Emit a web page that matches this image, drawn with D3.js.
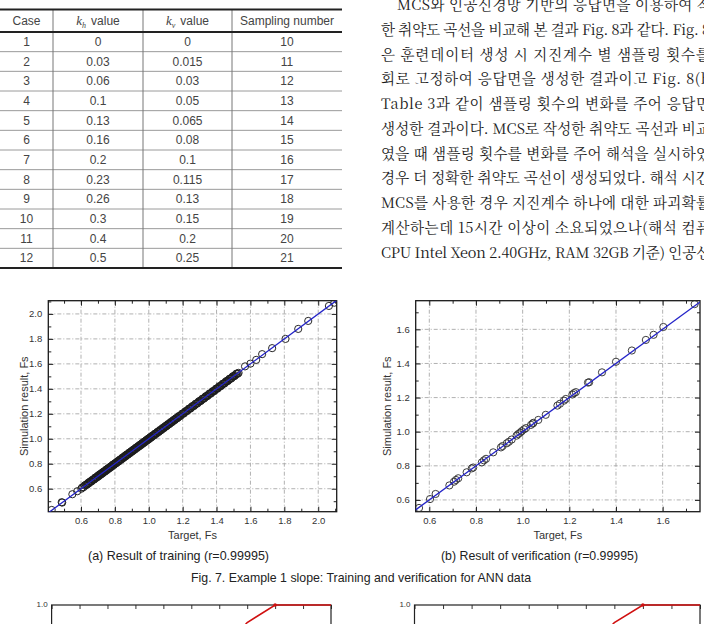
<!DOCTYPE html>
<html><head><meta charset="utf-8">
<script src="https://cdn.jsdelivr.net/npm/d3@7"></script>
<style>html,body{margin:0;padding:0;background:#fff;overflow:hidden}</style>
</head><body><svg id="c" width="704" height="624" xmlns="http://www.w3.org/2000/svg"></svg>
<script>
// ---------- DATA ----------
const tableCases = [1,2,3,4,5,6,7,8,9,10,11,12];
const khValues = ["0","0.03","0.06","0.1","0.13","0.16","0.2","0.23","0.26","0.3","0.4","0.5"];
const kvValues = ["0","0.015","0.03","0.05","0.065","0.08","0.1","0.115","0.13","0.15","0.2","0.25"];
const samplingNumbers = [10,11,12,13,14,15,16,17,18,19,20,21];

const paragraphLines = [
  "MCS와 인공신경망 기반의 응답면을 이용하여 작",
  "한 취약도 곡선을 비교해 본 결과 Fig. 8과 같다. Fig. 8",
  "은 훈련데이터 생성 시 지진계수 별 샘플링 횟수를",
  "회로 고정하여 응답면을 생성한 결과이고 Fig. 8(b",
  "Table 3과 같이 샘플링 횟수의 변화를 주어 응답면",
  "생성한 결과이다. MCS로 작성한 취약도 곡선과 비교",
  "였을 때 샘플링 횟수를 변화를 주어 해석을 실시하였",
  "경우 더 정확한 취약도 곡선이 생성되었다. 해석 시간",
  "MCS를 사용한 경우 지진계수 하나에 대한 파괴확률",
  "계산하는데 15시간 이상이 소요되었으나(해석 컴퓨",
  "CPU Intel Xeon 2.40GHz, RAM 32GB 기준) 인공신"
];

// Fig 7(a) training: target vs simulation
const trainTarget = [0.427,0.486,0.489,0.549,0.578,0.602,0.607,0.628,0.638,0.645,0.652,0.660,0.668,0.675,0.682,0.688,0.695,0.700,0.706,0.712,0.718,0.724,0.730,0.737,0.744,0.750,0.757,0.763,0.770,0.776,0.783,0.790,0.797,0.804,0.811,0.818,0.825,0.832,0.840,0.846,0.853,0.860,0.866,0.872,0.879,0.886,0.893,0.900,0.906,0.913,0.920,0.926,0.933,0.940,0.946,0.952,0.958,0.964,0.970,0.976,0.982,0.988,0.994,1.000,1.006,1.012,1.018,1.025,1.032,1.039,1.046,1.053,1.060,1.068,1.076,1.084,1.092,1.100,1.108,1.116,1.124,1.132,1.140,1.148,1.156,1.164,1.172,1.180,1.190,1.200,1.210,1.220,1.230,1.240,1.250,1.260,1.270,1.280,1.290,1.300,1.310,1.320,1.330,1.340,1.350,1.360,1.370,1.380,1.390,1.400,1.410,1.420,1.430,1.440,1.450,1.460,1.470,1.480,1.490,1.500,1.510,1.520,1.530,1.568,1.600,1.634,1.669,1.728,1.807,1.882,1.941,2.063,2.095,
  0.615,0.622,0.633,0.641,0.649,0.656,0.663,0.671,0.679,0.685,0.691,0.698,0.703,0.709,0.715,0.721,0.727,0.733,0.740,0.747,0.753,0.760,0.766,0.773,0.779,0.786,0.793,0.800,0.807,0.814,0.821,0.828,0.836,0.843,0.850,0.856,0.863,0.869,0.876,0.883,0.889,0.896,0.903,0.910,0.916,0.923,0.930,0.936,0.943,0.949,0.955,0.961,0.967,0.973,0.979,0.985,0.991,0.997,1.003,1.009,1.015,1.022,1.029,1.036,1.043,1.050,1.057,1.064,1.072,1.080,1.088,1.096,1.104,1.112,1.120,1.128,1.136,1.144,1.152,1.160,1.168,1.176,1.185,1.195,1.205,1.215,1.225,1.235,1.245,1.255,1.265,1.275,1.285,1.295,1.305,1.315,1.325,1.335,1.345,1.355,1.365,1.375,1.385,1.395,1.405,1.415,1.425,1.435,1.445,1.455,1.465,1.475,1.485,1.495,1.505,1.515,1.525];
const trainSim =    [0.430,0.492,0.489,0.556,0.580,0.600,0.610,0.632,0.636,0.648,0.655,0.657,0.671,0.672,0.686,0.690,0.692,0.704,0.703,0.716,0.715,0.727,0.728,0.740,0.741,0.754,0.755,0.766,0.768,0.779,0.781,0.794,0.795,0.807,0.809,0.821,0.823,0.835,0.838,0.849,0.851,0.863,0.864,0.875,0.877,0.889,0.891,0.903,0.904,0.916,0.918,0.929,0.931,0.943,0.944,0.955,0.956,0.967,0.968,0.979,0.980,0.991,0.992,1.003,1.004,1.015,1.016,1.028,1.030,1.042,1.044,1.056,1.058,1.071,1.074,1.087,1.090,1.103,1.106,1.119,1.122,1.135,1.138,1.151,1.154,1.167,1.170,1.183,1.188,1.203,1.208,1.223,1.228,1.243,1.248,1.263,1.268,1.283,1.288,1.303,1.308,1.323,1.328,1.343,1.348,1.363,1.368,1.383,1.388,1.403,1.408,1.423,1.428,1.443,1.448,1.463,1.468,1.483,1.488,1.503,1.508,1.523,1.528,1.580,1.602,1.632,1.678,1.726,1.800,1.880,1.944,2.064,2.090,
  0.612,0.626,0.630,0.645,0.646,0.660,0.661,0.674,0.676,0.689,0.688,0.701,0.700,0.713,0.712,0.724,0.723,0.737,0.736,0.750,0.749,0.764,0.762,0.776,0.775,0.790,0.789,0.803,0.803,0.818,0.817,0.831,0.832,0.847,0.846,0.860,0.859,0.873,0.872,0.887,0.885,0.900,0.899,0.914,0.912,0.927,0.926,0.940,0.939,0.953,0.951,0.965,0.963,0.977,0.975,0.989,0.987,1.001,0.999,1.013,1.011,1.026,1.025,1.040,1.039,1.054,1.053,1.068,1.068,1.084,1.084,1.100,1.100,1.116,1.116,1.132,1.132,1.148,1.148,1.164,1.164,1.180,1.181,1.199,1.201,1.219,1.221,1.239,1.241,1.259,1.261,1.279,1.281,1.299,1.301,1.319,1.321,1.339,1.341,1.359,1.361,1.379,1.381,1.399,1.401,1.419,1.421,1.439,1.441,1.459,1.461,1.479,1.481,1.499,1.501,1.519,1.521];

// Fig 7(b) verification: target vs simulation
const verifTarget = [0.556,0.603,0.627,0.686,0.706,0.714,0.724,0.760,0.782,0.788,0.825,0.834,0.843,0.874,0.907,0.914,0.932,0.941,0.953,0.974,0.981,0.989,0.996,1.006,1.014,1.036,1.043,1.046,1.067,1.099,1.149,1.160,1.177,1.185,1.213,1.220,1.228,1.280,1.285,1.340,1.400,1.468,1.528,1.561,1.603,1.737];
const verifSim =    [0.553,0.605,0.635,0.685,0.707,0.717,0.727,0.762,0.785,0.790,0.820,0.832,0.841,0.879,0.908,0.916,0.932,0.941,0.954,0.977,0.986,0.994,1.003,1.014,1.021,1.040,1.048,1.052,1.069,1.099,1.153,1.164,1.182,1.192,1.218,1.226,1.232,1.288,1.290,1.348,1.410,1.476,1.538,1.568,1.614,1.748];

const ticksA = [0.6,0.8,1.0,1.2,1.4,1.6,1.8,2.0];
const minorA = [0.5,0.7,0.9,1.1,1.3,1.5,1.7,1.9,2.1];
const ticksB = [0.6,0.8,1.0,1.2,1.4,1.6];
const minorB = [0.7,0.9,1.1,1.3,1.5,1.7];

// Fig 8 (partially visible): fragility curve tail
const fragX = [0.6,0.7,0.8,0.9,1.0];
const fragP = [0.80,0.93,1.0,1.0,1.0];
const fragTicks = [0,0.1,0.2,0.3,0.4,0.5,0.6,0.7,0.8,0.9,1.0];

const captions = ["(a) Result of training (r=0.99995)", "(b) Result of verification (r=0.99995)"];
const figCaption = "Fig. 7. Example 1 slope: Training and verification for ANN data";

// ---------- DRAW ----------
const svg = d3.select("#c");
const SANS = "'Liberation Sans', Arial, 'Noto Sans CJK KR', sans-serif";

// ----- Table -----
(function table(){
  const g = svg.append("g").attr("font-family", SANS).attr("font-size", 12).attr("fill", "#444");
  const x0 = 0, x1 = 342, topY = 9.5, headY = 32, botY = 268;
  const rowY = d3.scaleLinear().domain([0, tableCases.length]).range([headY, botY]);
  const colLines = [53, 143, 232];
  const colCenters = [26.5, 98, 187.5, 287];
  g.selectAll("line.row").data(d3.range(1, tableCases.length)).join("line")
    .attr("x1", x0).attr("x2", x1).attr("y1", d => rowY(d)).attr("y2", d => rowY(d))
    .attr("stroke", "#9a9a9a").attr("stroke-width", 1);
  g.selectAll("line.col").data(colLines).join("line")
    .attr("x1", d => d).attr("x2", d => d).attr("y1", topY).attr("y2", botY)
    .attr("stroke", "#777").attr("stroke-width", 1);
  [topY, headY, botY].forEach(yv => g.append("line").attr("x1", x0).attr("x2", x1)
    .attr("y1", yv).attr("y2", yv).attr("stroke", "#222").attr("stroke-width", 2));
  const hy = 25;
  g.append("text").attr("x", colCenters[0]).attr("y", hy).attr("text-anchor", "middle").text("Case");
  [["h", 1], ["v", 2]].forEach(([sub, ci]) => {
    const t = g.append("text").attr("x", colCenters[ci]).attr("y", hy).attr("text-anchor", "middle");
    t.append("tspan").attr("font-family", "'Liberation Serif', serif").attr("font-style", "italic").attr("font-size", 13).text("k");
    t.append("tspan").attr("font-family", "'Liberation Serif', serif").attr("font-style", "italic").attr("font-size", 8).attr("dy", 3).text(sub);
    t.append("tspan").attr("dy", -3).attr("dx", 5).text("value");
  });
  g.append("text").attr("x", colCenters[3]).attr("y", hy).attr("text-anchor", "middle").text("Sampling number");
  const cols = [tableCases, khValues, kvValues, samplingNumbers];
  cols.forEach((arr, ci) => {
    g.selectAll(null).data(arr).join("text")
      .attr("x", colCenters[ci]).attr("y", (d, i) => rowY(i + 0.5) + 4.3)
      .attr("text-anchor", "middle").text(d => d);
  });
})();

// ----- Paragraph -----
(function para(){
  const g = svg.append("g")
    .attr("font-family", "'Noto Serif CJK KR', 'Liberation Serif', 'Noto Sans CJK KR', serif")
    .attr("font-size", 14.5).attr("fill", "#1a1a1a");
  const lineY = d3.scaleLinear().domain([0, 10]).range([10, 257.5]);
  g.selectAll("text").data(paragraphLines).join("text")
    .attr("x", (d, i) => i === 0 ? 397 : 381)
    .attr("y", (d, i) => lineY(i))
    .attr("textLength", (d, i) => (i === 0 ? 711 - 397 : 710 - 381))
    .attr("lengthAdjust", "spacing")
    .text(d => d);
})();

// ----- Scatter plots -----
function scatter(o) {
  const x = d3.scaleLinear().domain(o.xDomain).range([o.left, o.right]);
  const y = d3.scaleLinear().domain(o.yDomain).range([o.bottom, o.top]);
  const g = svg.append("g");
  const clipId = "clip" + o.id;
  svg.append("clipPath").attr("id", clipId).append("rect")
    .attr("x", o.left).attr("y", o.top).attr("width", o.right - o.left).attr("height", o.bottom - o.top);
  const grid = g.append("g").attr("stroke", "#a8a8a8").attr("stroke-width", 0.9).attr("stroke-dasharray", "4,2,1,2");
  grid.selectAll("line.gx").data(o.ticks.filter(t => t > o.xDomain[0] && t < o.xDomain[1])).join("line")
    .attr("x1", d => x(d)).attr("x2", d => x(d)).attr("y1", o.top).attr("y2", o.bottom);
  grid.selectAll("line.gy").data(o.ticks.filter(t => t > o.yDomain[0] && t < o.yDomain[1])).join("line")
    .attr("y1", d => y(d)).attr("y2", d => y(d)).attr("x1", o.left).attr("x2", o.right);
  const fmt = d3.format(".1f");
  const styleAxis = sel => {
    sel.select(".domain").remove();
    sel.selectAll("line").attr("stroke", "#222");
    sel.selectAll("text").attr("font-family", SANS).attr("font-size", 9.5).attr("fill", "#333");
  };
  g.append("g").attr("transform", `translate(0,${o.bottom})`)
    .call(d3.axisBottom(x).tickValues(o.ticks).tickSizeInner(-5).tickSizeOuter(0).tickPadding(6).tickFormat(fmt)).call(styleAxis);
  g.append("g").attr("transform", `translate(0,${o.bottom})`)
    .call(d3.axisBottom(x).tickValues(o.minor.filter(t => t < o.xDomain[1])).tickSize(-3).tickFormat("")).call(styleAxis);
  g.append("g").attr("transform", `translate(0,${o.top})`)
    .call(d3.axisTop(x).tickValues(o.ticks).tickSize(-5).tickFormat("")).call(styleAxis);
  g.append("g").attr("transform", `translate(0,${o.top})`)
    .call(d3.axisTop(x).tickValues(o.minor.filter(t => t < o.xDomain[1])).tickSize(-3).tickFormat("")).call(styleAxis);
  g.append("g").attr("transform", `translate(${o.left},0)`)
    .call(d3.axisLeft(y).tickValues(o.ticks).tickSizeInner(-5).tickSizeOuter(0).tickPadding(6).tickFormat(fmt)).call(styleAxis);
  g.append("g").attr("transform", `translate(${o.left},0)`)
    .call(d3.axisLeft(y).tickValues(o.minor.filter(t => t < o.yDomain[1])).tickSize(-3).tickFormat("")).call(styleAxis);
  g.append("g").attr("transform", `translate(${o.right},0)`)
    .call(d3.axisRight(y).tickValues(o.ticks).tickSize(-5).tickFormat("")).call(styleAxis);
  g.append("g").attr("transform", `translate(${o.right},0)`)
    .call(d3.axisRight(y).tickValues(o.minor.filter(t => t < o.yDomain[1])).tickSize(-3).tickFormat("")).call(styleAxis);
  g.append("rect").attr("x", o.left).attr("y", o.top).attr("width", o.right - o.left).attr("height", o.bottom - o.top)
    .attr("fill", "none").attr("stroke", "#1a1a1a").attr("stroke-width", 1.3);
  const pg = g.append("g").attr("clip-path", `url(#${clipId})`);
  pg.selectAll("circle").data(o.xs.map((v, i) => [v, o.ys[i]])).join("circle")
    .attr("cx", d => x(d[0])).attr("cy", d => y(d[1])).attr("r", 3.6)
    .attr("fill", "none").attr("stroke", o.pointColor).attr("stroke-width", 0.95);
  pg.append("line").attr("x1", x(o.xDomain[0])).attr("y1", y(o.xDomain[0]))
    .attr("x2", x(o.xDomain[1])).attr("y2", y(o.xDomain[1]))
    .attr("stroke", "#2424c8").attr("stroke-width", 1.3);
  const lab = g.append("g").attr("font-family", SANS).attr("font-size", 11).attr("fill", "#333").attr("text-anchor", "middle");
  lab.append("text").attr("x", (o.left + o.right) / 2).attr("y", 539).text("Target, Fs");
  lab.append("text").attr("transform", `translate(${o.yLabX},${(o.top + o.bottom) / 2}) rotate(-90)`).text("Simulation result, Fs");
}

scatter({ id: "a", left: 48.3, right: 336.7, top: 300.7, bottom: 511.7,
  xDomain: [0.407, 2.109], yDomain: [0.416, 2.106], ticks: ticksA, minor: minorA,
  xs: trainTarget, ys: trainSim, yLabX: 28, pointColor: "#1c1c1c" });
scatter({ id: "b", left: 415.7, right: 700, top: 300.7, bottom: 511.7,
  xDomain: [0.5417, 1.760], yDomain: [0.531, 1.768], ticks: ticksB, minor: minorB,
  xs: verifTarget, ys: verifSim, yLabX: 391, pointColor: "#333" });

// ----- Captions -----
(function caps(){
  const g = svg.append("g").attr("font-family", SANS).attr("font-size", 13).attr("fill", "#222");
  g.append("text").attr("x", 88).attr("y", 560).attr("textLength", 181).attr("lengthAdjust", "spacingAndGlyphs").text(captions[0]);
  g.append("text").attr("x", 441).attr("y", 560).attr("textLength", 197).attr("lengthAdjust", "spacingAndGlyphs").text(captions[1]);
  g.append("text").attr("x", 191).attr("y", 582).attr("textLength", 340).attr("lengthAdjust", "spacingAndGlyphs").text(figCaption);
})();

// ----- Partially visible Fig. 8 charts -----
function frag(left, right, top) {
  const x = d3.scaleLinear().domain([0, 1]).range([left, right]);
  const y = d3.scaleLinear().domain([0, 1]).range([top + 250, top]);
  const g = svg.append("g");
  g.append("g").attr("transform", `translate(0,${top})`)
    .call(d3.axisTop(x).tickValues(fragTicks).tickSize(-4).tickFormat(""))
    .call(s => { s.select(".domain").remove(); s.selectAll("line").attr("stroke", "#333"); });
  g.append("rect").attr("x", left).attr("y", top).attr("width", right - left).attr("height", 250)
    .attr("fill", "none").attr("stroke", "#222").attr("stroke-width", 1.2);
  g.append("text").attr("x", left - 4).attr("y", top + 2).attr("text-anchor", "end")
    .attr("font-family", SANS).attr("font-size", 8).attr("fill", "#333").text("1.0");
  const line = d3.line().x(d => x(d[0])).y(d => y(d[1]));
  const pts = fragX.map((v, i) => [v, fragP[i]]);
  g.append("path").attr("d", line(pts)).attr("fill", "none").attr("stroke", "#d01010").attr("stroke-width", 1.6);
  g.selectAll("circle").data(pts.filter(d => d[1] >= 1 && d[0] < 0.85)).join("circle")
    .attr("cx", d => x(d[0])).attr("cy", d => y(d[1])).attr("r", 1.8).attr("fill", "#d01010");
}
frag(51.6, 331, 605);
frag(414.5, 700, 605);
</script>
</body></html>
